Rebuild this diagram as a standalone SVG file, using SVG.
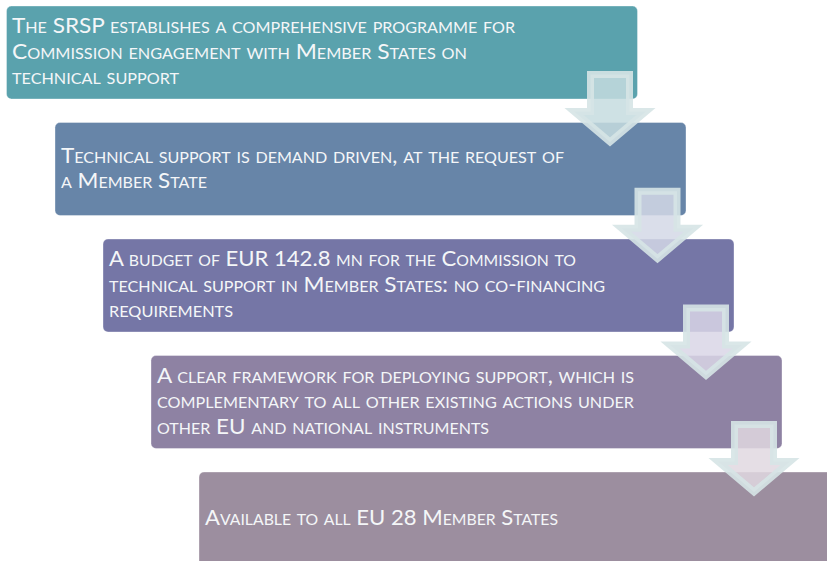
<svg xmlns="http://www.w3.org/2000/svg" width="827" height="561" viewBox="0 0 827 561">
<defs>
<style>
.box{stroke:#ffffff;stroke-opacity:0.35;stroke-width:1}
.t{font-family:Lato,"Liberation Sans",sans-serif;font-size:21px;font-variant:small-caps;fill:#f4f6f8}
.arr{stroke:#d6e4e6;stroke-opacity:0.9;stroke-width:7;stroke-linejoin:miter;fill-opacity:0.85}
</style>
<path id="arrowShape" d="M590.5,74.5 H629.5 V111.5 H646 L610,142 L574,111.5 H590.5 Z"/>
</defs>
<rect width="827" height="561" fill="#ffffff"/>
<g id="node1">
<rect class="box" x="6.5" y="6" width="631" height="93" rx="5" fill="#5aa2ad"/>
<text class="t" x="12" y="33" textLength="503" lengthAdjust="spacingAndGlyphs">The SRSP establishes a comprehensive programme for</text>
<text class="t" x="12" y="58.5" textLength="455" lengthAdjust="spacingAndGlyphs">Commission engagement with Member States on</text>
<text class="t" x="12" y="84" textLength="167" lengthAdjust="spacingAndGlyphs">technical support</text>
</g>
<g id="node2">
<rect class="box" x="55" y="122.5" width="631" height="93" rx="5" fill="#6785a8"/>
<text class="t" x="61" y="162.5" textLength="503" lengthAdjust="spacingAndGlyphs">Technical support is demand driven, at the request of</text>
<text class="t" x="61" y="188" textLength="146" lengthAdjust="spacingAndGlyphs">a Member State</text>
</g>
<g id="node3">
<rect class="box" x="103" y="239" width="631" height="93" rx="5" fill="#7576a6"/>
<text class="t" x="109" y="266" textLength="467" lengthAdjust="spacingAndGlyphs">A budget of EUR 142.8 mn for the Commission to</text>
<text class="t" x="109" y="291.5" textLength="496" lengthAdjust="spacingAndGlyphs">technical support in Member States: no co-financing</text>
<text class="t" x="109" y="317" textLength="124" lengthAdjust="spacingAndGlyphs">requirements</text>
</g>
<g id="node4">
<rect class="box" x="151" y="355.5" width="631" height="93" rx="5" fill="#8e82a3"/>
<text class="t" x="157" y="382.5" textLength="477" lengthAdjust="spacingAndGlyphs">A clear framework for deploying support, which is</text>
<text class="t" x="157" y="408" textLength="477" lengthAdjust="spacingAndGlyphs">complementary to all other existing actions under</text>
<text class="t" x="157" y="433.5" textLength="332" lengthAdjust="spacingAndGlyphs">other EU and national instruments</text>
</g>
<g id="node5">
<rect class="box" x="199" y="472" width="640" height="100" rx="5" fill="#9c8e9f"/>
<text class="t" x="205" y="525" textLength="353" lengthAdjust="spacingAndGlyphs">Available to all EU 28 Member States</text>
</g>
<g id="connectors">
<use href="#arrowShape" class="arr" fill="#c6dcdf"/>
<use href="#arrowShape" class="arr" fill="#d3d8e6" transform="translate(47.5,116.7)"/>
<use href="#arrowShape" class="arr" fill="#d9d6e6" transform="translate(96,233.4)"/>
<use href="#arrowShape" class="arr" fill="#e0d8e0" transform="translate(144,350)"/>
</g>
</svg>
